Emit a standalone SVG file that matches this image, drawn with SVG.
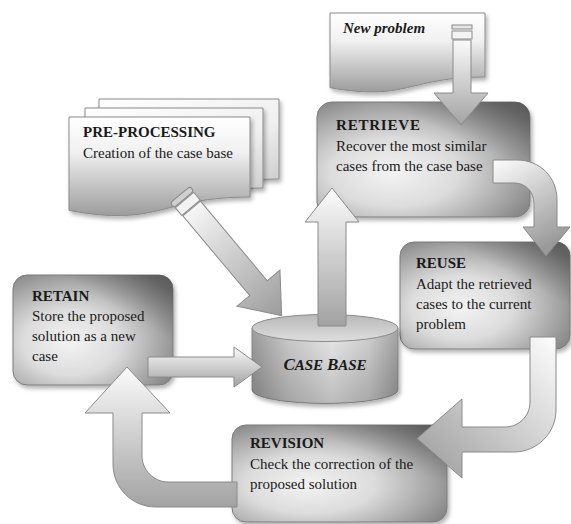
<svg xmlns="http://www.w3.org/2000/svg" width="571" height="524" viewBox="0 0 571 524">
<defs>
<style>
text{font-family:"Liberation Serif","Times New Roman",serif;fill:#1a1a1a;font-size:15px}
.h{font-weight:bold}
.box{stroke:#7c7c7c;stroke-width:1;filter:url(#sh)}
.ov{stroke:none}
.doc{stroke:#8a8a8a;stroke-width:1;filter:url(#sh)}
.arr{stroke:#8a8a8a;stroke-width:1}
</style>
<filter id="sh" x="-10%" y="-10%" width="125%" height="130%">
<feDropShadow dx="2" dy="3" stdDeviation="2" flood-color="#000" flood-opacity="0.3"/>
</filter>
<radialGradient id="boxG" cx="0.38" cy="0.6" r="0.75" fx="0.35" fy="0.62">
<stop offset="0" stop-color="#f3f3f3"/>
<stop offset="0.4" stop-color="#dcdcdc"/>
<stop offset="0.75" stop-color="#a4a4a4"/>
<stop offset="1" stop-color="#7a7a7a"/>
</radialGradient>
<linearGradient id="boxO" x1="1" y1="0" x2="0.4" y2="0.7">
<stop offset="0" stop-color="#4a4a4a" stop-opacity="0.75"/>
<stop offset="0.5" stop-color="#6a6a6a" stop-opacity="0"/>
</linearGradient>
<linearGradient id="docG" x1="0" y1="0" x2="0" y2="1">
<stop offset="0" stop-color="#ffffff"/>
<stop offset="0.35" stop-color="#f1f1f1"/>
<stop offset="1" stop-color="#9c9c9c"/>
</linearGradient>
<linearGradient id="docB" x1="0" y1="0" x2="1" y2="1">
<stop offset="0" stop-color="#ffffff"/>
<stop offset="0.6" stop-color="#f0f0f0"/>
<stop offset="1" stop-color="#c4c4c4"/>
</linearGradient>
<linearGradient id="arrG" x1="0" y1="0" x2="0" y2="1">
<stop offset="0" stop-color="#fbfbfb"/>
<stop offset="1" stop-color="#a2a2a2"/>
</linearGradient>
<linearGradient id="arrX" x1="0" y1="0" x2="1" y2="0">
<stop offset="0" stop-color="#f6f6f6"/>
<stop offset="1" stop-color="#9c9c9c"/>
</linearGradient>
<linearGradient id="arrD" x1="0" y1="0" x2="0.5" y2="1">
<stop offset="0" stop-color="#fdfdfd"/>
<stop offset="1" stop-color="#9a9a9a"/>
</linearGradient>
<linearGradient id="arrR" x1="1" y1="0" x2="0" y2="1">
<stop offset="0" stop-color="#fdfdfd"/>
<stop offset="1" stop-color="#9a9a9a"/>
</linearGradient>
<linearGradient id="cylB" x1="0" y1="0" x2="1" y2="0">
<stop offset="0" stop-color="#9e9e9e"/>
<stop offset="0.25" stop-color="#cdcdcd"/>
<stop offset="0.55" stop-color="#ebebeb"/>
<stop offset="0.8" stop-color="#d2d2d2"/>
<stop offset="1" stop-color="#a4a4a4"/>
</linearGradient>
<linearGradient id="cylV" x1="0" y1="0" x2="0" y2="1">
<stop offset="0" stop-color="#000" stop-opacity="0"/>
<stop offset="1" stop-color="#000" stop-opacity="0.2"/>
</linearGradient>
<linearGradient id="cylT" x1="0" y1="0" x2="0" y2="1">
<stop offset="0" stop-color="#b8b8b8"/>
<stop offset="1" stop-color="#dedede"/>
</linearGradient>
</defs>
<rect width="571" height="524" fill="#ffffff"/>

<g id="preprocessing">
<path class="doc" fill="url(#docB)" d="M99,99 H279 V179 C189,179 189,209.7 99,192.4 Z"/>
<path class="doc" fill="url(#docB)" d="M85,108 H263 V188 C174,188 174,218.7 85,201.4 Z"/>
<path class="doc" fill="url(#docG)" d="M69,117 H250 V197 C159.5,197 159.5,227.7 69,210.4 Z"/>
<text x="83" y="137" class="h">PRE-PROCESSING</text>
<text x="83" y="158">Creation of the case base</text>
</g>

<g id="newproblem">
<path class="doc" fill="url(#docG)" d="M330,13 H485 V77 C407.5,77 407.5,101.6 330,87.7 Z"/>
<text x="343" y="33" font-style="italic" font-weight="bold">New problem</text>
</g>

<g id="retrieve">
<rect class="box" x="317" y="102" width="213" height="115" rx="15" fill="url(#boxG)"/>
<rect class="ov" x="317" y="102" width="213" height="115" rx="15" fill="url(#boxO)"/>
<text x="336" y="130" class="h" letter-spacing="0.8">RETRIEVE</text>
<text x="336" y="151">Recover the most similar</text>
<text x="336" y="171">cases from the case base</text>
</g>

<g id="reuse">
<rect class="box" x="400" y="242" width="170" height="107" rx="14" fill="url(#boxG)"/>
<rect class="ov" x="400" y="242" width="170" height="107" rx="14" fill="url(#boxO)"/>
<text x="416" y="268" class="h">REUSE</text>
<text x="416" y="289">Adapt the retrieved</text>
<text x="416" y="309">cases to the current</text>
<text x="416" y="329">problem</text>
</g>

<g id="retain">
<rect class="box" x="13" y="275" width="160" height="110" rx="14" fill="url(#boxG)"/>
<rect class="ov" x="13" y="275" width="160" height="110" rx="14" fill="url(#boxO)"/>
<text x="32" y="301" class="h">RETAIN</text>
<text x="32" y="321">Store the proposed</text>
<text x="32" y="341">solution as a new</text>
<text x="32" y="361">case</text>
</g>

<g id="revision">
<rect class="box" x="232" y="425" width="215" height="97" rx="14" fill="url(#boxG)"/>
<rect class="ov" x="232" y="425" width="215" height="97" rx="14" fill="url(#boxO)"/>
<text x="250" y="448" class="h">REVISION</text>
<text x="250" y="469">Check the correction of the</text>
<text x="250" y="489">proposed solution</text>
</g>

<g id="casebase">
<path d="M252,328 V390 A73,13.5 0 0 0 398,390 V328 Z" fill="url(#cylB)" stroke="#8a8a8a" filter="url(#sh)"/>
<path d="M252,328 V390 A73,13.5 0 0 0 398,390 V328 Z" fill="url(#cylV)" stroke="none"/>
<ellipse cx="325" cy="328" rx="73" ry="13.5" fill="url(#cylT)" stroke="#8a8a8a"/>
<text x="325" y="370" text-anchor="middle" font-style="italic" font-weight="bold" font-size="13"><tspan font-size="17">C</tspan>ASE <tspan font-size="17">B</tspan>ASE</text>
</g>

<g id="connectors">
<g id="np-retrieve">
<rect class="arr" x="452" y="25" width="20" height="4" fill="#e6e6e6"/>
<rect class="arr" x="452" y="31" width="20" height="8" fill="#f4f4f4"/>
<path class="arr" fill="url(#arrG)" d="M453,40 H471 V93 H488 L461,125 L434,93 H453 Z"/>
</g>
<g id="pre-case" transform="translate(182,197) rotate(50)">
<rect class="arr" x="-3" y="-13" width="6" height="26" rx="3" fill="#d0d0d0"/>
<rect class="arr" x="4" y="-12" width="10" height="24" fill="#f2f2f2"/>
<path class="arr" fill="url(#arrX)" d="M15,-11.5 H119 V-28 L155,0 L119,28 V11.5 H15 Z"/>
</g>
<path id="case-retrieve" class="arr" fill="url(#arrG)" d="M318,326 V222 H305 L332,188 L359,222 H346 V326 Z"/>
<path id="retrieve-reuse" class="arr" fill="url(#arrD)" d="M493,160 H517 C540,160 557,177 557,200 V227 H570 L546,256 L523,227 H534 V204 C534,192 526,183 514,183 H493 Z"/>
<path id="reuse-revision" class="arr" fill="url(#arrR)" d="M530,337 H556 V410 C556,433 537,452 514,452 H462 V478 L417,438.5 L462,399 V427 H505 C519,427 530,416 530,402 Z"/>
<path id="revision-retain" class="arr" fill="url(#arrG)" d="M237,482 H168 C154,482 142,470 142,456 V413 H170 L127,367 L85,413 H113 V464 C113,488 132,507 156,507 H237 Z"/>
<path id="retain-case" class="arr" fill="url(#arrG)" d="M148,357 H234 V347 L262,367 L234,387 V377 H148 Z"/>
</g>
</svg>
